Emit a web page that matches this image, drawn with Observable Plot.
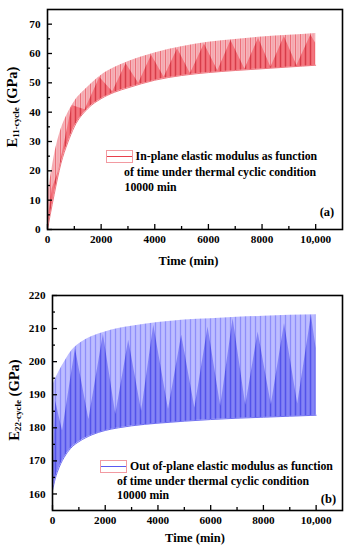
<!DOCTYPE html>
<html><head><meta charset="utf-8">
<script src="https://cdn.jsdelivr.net/npm/d3@7"></script>
<script src="https://cdn.jsdelivr.net/npm/@observablehq/plot@0.6"></script>
<style>
body{margin:0;background:#fff;}
#wrap{position:relative;width:352px;height:550px;overflow:hidden;font-family:"Liberation Serif","Times New Roman",serif;font-weight:bold;color:#000;}
.t{position:absolute;white-space:nowrap;line-height:1;}
.c{transform:translate(-50%,-50%);}
.m{transform:translateY(-50%);}
.box{position:absolute;box-sizing:border-box;border:1px solid #f29aa1;}
.box i{position:absolute;left:0;right:0;top:50%;height:1px;margin-top:-0.5px;}
</style></head><body><div id="wrap"></div>
<script>
// ---- data ----
const topT  = [0, 100, 250, 500, 750, 1000, 1500, 2000, 2500, 3000, 4000, 5000, 6000, 7000, 8000, 9000, 10000];
const topHi = [12, 17, 25, 34, 39.5, 43.5, 48.5, 52.5, 55.2, 57.2, 60.2, 62.3, 63.8, 64.8, 65.6, 66.2, 66.8];
const topLo = [0, 5, 12, 22.5, 29.5, 35, 41.2, 44.6, 46.8, 48.3, 50.9, 52.5, 53.5, 54.2, 54.8, 55.4, 56.0];
const topZigT = [0, 180, 420, 920, 1400, 1950, 2430, 2930, 3400, 3880, 4350, 4850, 5330, 5850, 6350, 6840, 7360, 7870, 8330, 8830, 9300, 9820, 10000];
const topZigV = [2, 14, 20, 42.3, 40.8, 51.8, 47.0, 56.5, 49.9, 59.4, 51.9, 61.6, 53.2, 63.2, 54.1, 64.4, 54.7, 65.2, 55.3, 65.8, 55.9, 66.3, 63.5];

const botT  = [0, 100, 250, 500, 750, 1000, 1500, 2000, 2500, 3000, 4000, 5000, 6000, 7000, 8000, 9000, 10000];
const botHi = [192.5, 194.5, 197, 200.5, 203.5, 205.3, 207.6, 209, 210, 210.7, 211.8, 212.6, 213, 213.4, 213.7, 214, 214.2];
const botLo = [161, 164.5, 168, 171.8, 174.3, 175.8, 177.9, 179.2, 180, 180.6, 181.4, 182, 182.5, 182.9, 183.2, 183.5, 183.8];
const botZigT = [0, 120, 380, 870, 1380, 1930, 2400, 2890, 3380, 3840, 4400, 4900, 5400, 5900, 6380, 6850, 7330, 7800, 8300, 8800, 9300, 9820, 10000];
const botZigV = [161, 188, 179, 204, 182.5, 208.3, 184, 206.5, 185, 211, 185.5, 208, 186, 210.5, 186.5, 213, 186.8, 209, 187, 211.5, 187.2, 214, 204];

const xMajor = [0, 2000, 4000, 6000, 8000, 10000];
const xMinor = [1000, 3000, 5000, 7000, 9000];
const topYMajor = [0, 10, 20, 30, 40, 50, 60, 70];
const topYMinor = [5, 15, 25, 35, 45, 55, 65];
const botYMajor = [160, 170, 180, 190, 200, 210, 220];
const botYMinor = [165, 175, 185, 195, 205, 215];
const xLabels = ["0", "2000", "4000", "6000", "8000", "10,000"];

// ---- tables ----
const topBand = topT.map((t, i) => ({t, hi: topHi[i], lo: topLo[i]}));
const topZig = topZigT.map((t, i) => ({t, v: topZigV[i]}));
const botBand = botT.map((t, i) => ({t, hi: botHi[i], lo: botLo[i]}));
const botZig = botZigT.map((t, i) => ({t, v: botZigV[i]}));
const fmtX = d => xLabels[xMajor.indexOf(d)];

const font = {fontFamily: "Liberation Serif, Times New Roman, serif", fontWeight: "bold", fontSize: "11.2px", background: "white", color: "black"};

function axes(yMaj, yMin) {
  return [
    Plot.frame({stroke: "black", strokeWidth: 1.6}),
    Plot.axisX(xMajor, {tickSize: -5, tickFormat: () => "", label: null, strokeWidth: 1.3}),
    Plot.axisX(xMinor, {tickSize: -3, tickFormat: () => "", label: null, strokeWidth: 1.3}),
    Plot.axisX(xMajor, {tickSize: 0, tickPadding: 6, tickFormat: fmtX, label: null, fill: "black"}),
    Plot.axisY(yMaj, {tickSize: -5, tickFormat: () => "", label: null, strokeWidth: 1.3}),
    Plot.axisY(yMin, {tickSize: -3, tickFormat: () => "", label: null, strokeWidth: 1.3}),
    Plot.axisY(yMaj, {tickSize: 0, tickPadding: 7, label: null, fill: "black"})
  ];
}

const svgTop = Plot.plot({
  width: 352, height: 272,
  marginTop: 9, marginBottom: 43, marginLeft: 47, marginRight: 10,
  x: {domain: [0, 11000], label: null},
  y: {domain: [0, 75], label: null},
  style: font,
  marks: [
    Plot.areaY(topBand, {x: "t", y1: "lo", y2: "hi", fill: "url(#topLight)", curve: "monotone-x"}),
    Plot.areaY(topZig, {x: "t", y1: 0, y2: "v", fill: "url(#topDark)"}),
    Plot.line(topBand, {x: "t", y: "lo", stroke: "#e8525d", strokeWidth: 0.8, curve: "monotone-x"}),
    ...axes(topYMajor, topYMinor)
  ]
});

const svgBot = Plot.plot({
  width: 352, height: 275,
  marginTop: 20, marginBottom: 40, marginLeft: 52, marginRight: 10,
  x: {domain: [0, 11000], label: null},
  y: {domain: [155, 220], label: null},
  style: font,
  marks: [
    Plot.areaY(botBand, {x: "t", y1: "lo", y2: "hi", fill: "url(#botLight)", curve: "monotone-x"}),
    Plot.areaY(botZig, {x: "t", y1: 155, y2: "v", fill: "url(#botDark)"}),
    Plot.line(botBand, {x: "t", y: "lo", stroke: "#4a4aec", strokeWidth: 0.8, curve: "monotone-x"}),
    ...axes(botYMajor, botYMinor)
  ]
});

function pattern(id, base, s1, s2) {
  return `<pattern id="${id}" patternUnits="userSpaceOnUse" width="5" height="10">
    <rect width="5" height="10" fill="${base}"/>
    <rect x="0" width="1" height="10" fill="${s1}"/>
    <rect x="2.6" width="0.8" height="10" fill="${s2}"/></pattern>`;
}
function addDefs(svg, html, clipId) {
  const ns = "http://www.w3.org/2000/svg";
  const d = document.createElementNS(ns, "defs");
  d.innerHTML = html;
  svg.insertBefore(d, svg.firstChild);
  // clip the dark beat pattern to the envelope band
  const areas = svg.querySelectorAll('g[aria-label="area"] path');
  if (areas.length >= 2) {
    const band = areas[0], zig = areas[1];
    const cp = document.createElementNS(ns, "clipPath");
    cp.setAttribute("id", clipId);
    const p = document.createElementNS(ns, "path");
    p.setAttribute("d", band.getAttribute("d"));
    cp.appendChild(p);
    d.appendChild(cp);
    zig.setAttribute("clip-path", `url(#${clipId})`);
  }
}
addDefs(svgTop, pattern("topLight", "#f6b4ba", "#ec707a", "#f29aa1") + pattern("topDark", "#f0656f", "#d63c49", "#f58d95"), "clipTop");
addDefs(svgBot, pattern("botLight", "#b6b6ff", "#8e8efa", "#c8c8ff") + pattern("botDark", "#7676f3", "#5252ea", "#9a9af8"), "clipBot");

const wrap = document.getElementById("wrap");
svgTop.style.position = "absolute"; svgTop.style.left = "0px"; svgTop.style.top = "0px";
svgBot.style.position = "absolute"; svgBot.style.left = "0px"; svgBot.style.top = "275px";
wrap.appendChild(svgTop);
wrap.appendChild(svgBot);

function txt(html, x, y, cls, size, extra) {
  const d = document.createElement("div");
  d.className = "t " + cls;
  d.style.left = x + "px"; d.style.top = y + "px"; d.style.fontSize = size + "px";
  if (extra) Object.assign(d.style, extra);
  d.innerHTML = html;
  wrap.appendChild(d);
  return d;
}
function box(x, y, w, h, lineColor) {
  const b = document.createElement("div");
  b.className = "box";
  Object.assign(b.style, {left: x + "px", top: y + "px", width: w + "px", height: h + "px"});
  const i = document.createElement("i"); i.style.background = lineColor;
  b.appendChild(i); wrap.appendChild(b);
}

// top panel texts
txt("Time (min)", 188.5, 261, "c", 12.5);
txt('E<sub style="font-size:9px;vertical-align:-2px">11-cycle</sub> (GPa)', 13, 107, "c", 14.5, {transform: "translate(-50%,-50%) rotate(-90deg)"});
box(106, 150, 27, 13, "#e8404c");
txt("In-plane elastic modulus as function", 135.6, 156.7, "m", 11.8);
txt("of time under thermal cyclic condition", 124, 172.8, "m", 11.8);
txt("10000 min", 124.5, 188.3, "m", 11.8);
txt("(a)", 327, 211.7, "c", 12.5);

// bottom panel texts
txt("Time (min)", 195, 538, "c", 12.5);
txt('E<sub style="font-size:9px;vertical-align:-2px">22-cycle</sub> (GPa)', 15, 400, "c", 14.5, {transform: "translate(-50%,-50%) rotate(-90deg)"});
box(100, 460, 27, 13, "#5a5af2");
txt("Out of-plane elastic modulus as function", 130, 466.7, "m", 11.8);
txt("of time under thermal cyclic condition", 117, 481.7, "m", 11.8);
txt("10000 min", 117, 496, "m", 11.8);
txt("(b)", 328.5, 499, "c", 12.5);
</script></body></html>
